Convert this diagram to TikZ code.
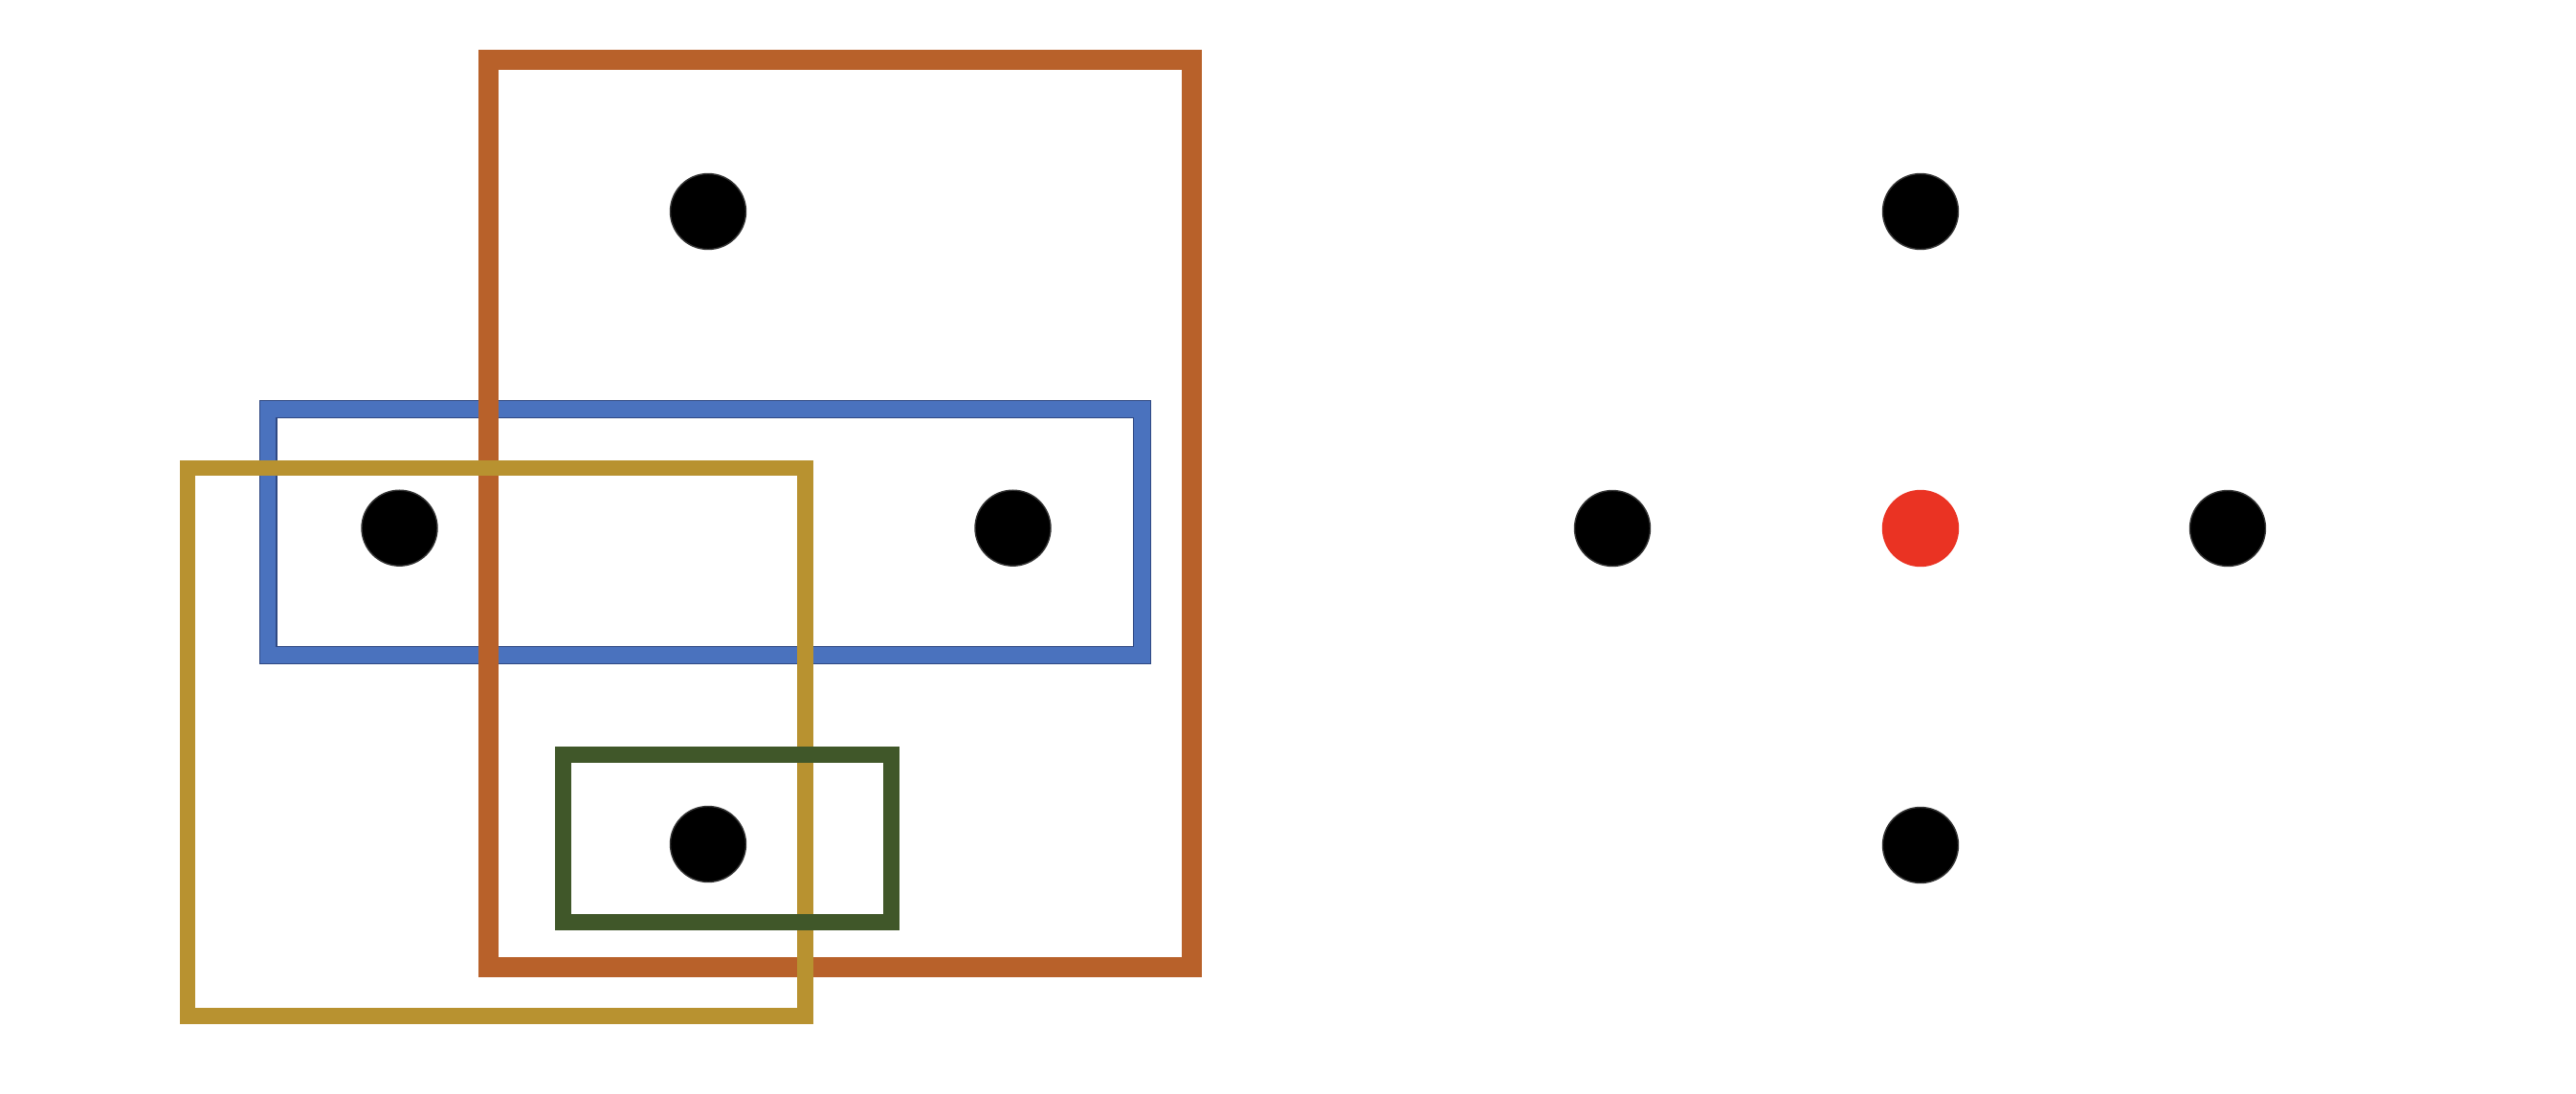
\documentclass[tikz,border=0pt]{standalone}
\usetikzlibrary{shapes.geometric}
\definecolor{cOrange}{RGB}{184,97,42}
\definecolor{cBlue}{RGB}{74,114,190}
\definecolor{cNavy}{RGB}{47,72,130}
\definecolor{cGold}{RGB}{184,146,48}
\definecolor{cGreen}{RGB}{64,87,41}
\definecolor{cRed}{RGB}{234,51,35}
\tikzset{
  boxshape/.style={rectangle, inner sep=0pt, outer sep=0pt, line join=miter},
  dotnode/.style={circle, inner sep=0pt, outer sep=0pt, minimum size=0.79cm, fill=#1, draw=black!80, line width=0.4pt},
}
\begin{document}
\begin{tikzpicture}
\useasboundingbox[fill=white] (0,0) rectangle (26.92,11.42);
% boxes
\node[boxshape, draw=cNavy, line width=0.19cm, minimum width=9.133cm, minimum height=2.57cm] (blueN) at (7.3665,5.86) {};
\node[boxshape, draw=cBlue, line width=0.165cm, minimum width=9.133cm, minimum height=2.57cm] (blue) at (7.3665,5.86) {};
\node[boxshape, draw=cOrange, line width=0.21cm, minimum width=7.35cm, minimum height=9.478cm] (orange) at (8.78,6.056) {};
\node[boxshape, draw=cGold, line width=0.165cm, minimum width=6.454cm, minimum height=5.725cm] (gold) at (5.187,3.6675) {};
\node[boxshape, draw=cGreen, line width=0.17cm, minimum width=3.43cm, minimum height=1.752cm] (green) at (7.60,2.661) {};
% left dots
\node[dotnode=black] (lt) at (7.40,9.21) {};
\node[dotnode=black] (ll) at (4.175,5.903) {};
\node[dotnode=black] (lr) at (10.585,5.903) {};
\node[dotnode=black] (lb) at (7.40,2.60) {};
% right dots
\node[dotnode=black] (rt) at (20.07,9.21) {};
\node[dotnode=black] (rl) at (16.85,5.90) {};
\node[dotnode=cRed, draw=cRed] (rc) at (20.07,5.90) {};
\node[dotnode=black] (rr) at (23.28,5.90) {};
\node[dotnode=black] (rb) at (20.07,2.59) {};
\end{tikzpicture}
\end{document}
